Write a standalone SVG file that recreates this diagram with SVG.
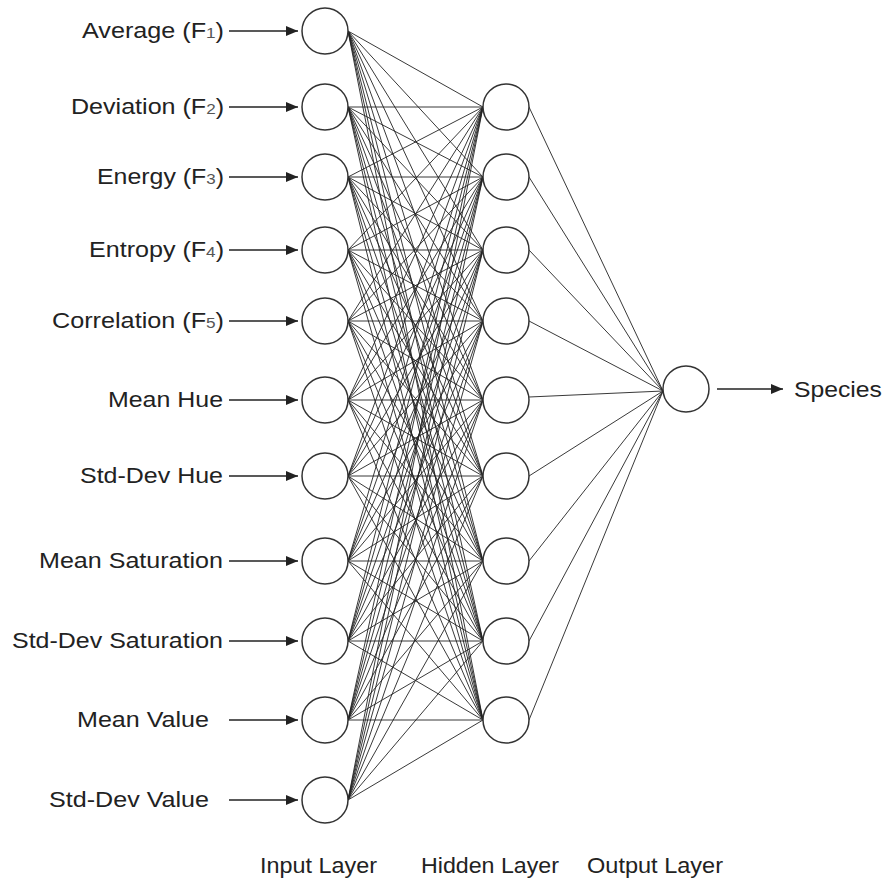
<svg xmlns="http://www.w3.org/2000/svg" width="888" height="883" viewBox="0 0 888 883">
  <defs>
    <marker id="arrow" viewBox="0 0 12 10" refX="12" refY="5" markerWidth="12" markerHeight="10" markerUnits="userSpaceOnUse" orient="auto">
      <path d="M0,0 L12,5 L0,10 Z" fill="#222"/>
    </marker>
    <style>
      .node { fill: #fff; stroke: #333; stroke-width: 1.5; }
      .edge { stroke: #222; stroke-width: 0.9; fill: none; }
      .feed { stroke: #222; stroke-width: 1.3; fill: none; marker-end: url(#arrow); }
      .lbl { font-family: "Liberation Sans", Arial, sans-serif; font-size: 22px; fill: #222; }
      .sub { font-size: 15px; fill: #555; }
    </style>
  </defs>
  <rect width="888" height="883" fill="#fff"/>

  <!-- connectors: input -> hidden (fully connected), hidden -> output -->
  <g id="connectors">
    <g id="input-hidden">
      <!-- input 1 (y=31) -->
      <path class="edge" d="M348,31L483,107M348,31L483,177M348,31L483,250M348,31L483,321M348,31L483,400M348,31L483,476M348,31L483,561M348,31L483,641M348,31L483,720"/>
      <path class="edge" d="M348,107L483,107M348,107L483,177M348,107L483,250M348,107L483,321M348,107L483,400M348,107L483,476M348,107L483,561M348,107L483,641M348,107L483,720"/>
      <path class="edge" d="M348,177L483,107M348,177L483,177M348,177L483,250M348,177L483,321M348,177L483,400M348,177L483,476M348,177L483,561M348,177L483,641M348,177L483,720"/>
      <path class="edge" d="M348,250L483,107M348,250L483,177M348,250L483,250M348,250L483,321M348,250L483,400M348,250L483,476M348,250L483,561M348,250L483,641M348,250L483,720"/>
      <path class="edge" d="M348,321L483,107M348,321L483,177M348,321L483,250M348,321L483,321M348,321L483,400M348,321L483,476M348,321L483,561M348,321L483,641M348,321L483,720"/>
      <path class="edge" d="M348,400L483,107M348,400L483,177M348,400L483,250M348,400L483,321M348,400L483,400M348,400L483,476M348,400L483,561M348,400L483,641M348,400L483,720"/>
      <path class="edge" d="M348,476L483,107M348,476L483,177M348,476L483,250M348,476L483,321M348,476L483,400M348,476L483,476M348,476L483,561M348,476L483,641M348,476L483,720"/>
      <path class="edge" d="M348,561L483,107M348,561L483,177M348,561L483,250M348,561L483,321M348,561L483,400M348,561L483,476M348,561L483,561M348,561L483,641M348,561L483,720"/>
      <path class="edge" d="M348,641L483,107M348,641L483,177M348,641L483,250M348,641L483,321M348,641L483,400M348,641L483,476M348,641L483,561M348,641L483,641M348,641L483,720"/>
      <path class="edge" d="M348,720L483,107M348,720L483,177M348,720L483,250M348,720L483,321M348,720L483,400M348,720L483,476M348,720L483,561M348,720L483,641M348,720L483,720"/>
      <path class="edge" d="M348,800L483,107M348,800L483,177M348,800L483,250M348,800L483,321M348,800L483,400M348,800L483,476M348,800L483,561M348,800L483,641M348,800L483,720"/>
    </g>
    <g id="hidden-output">
      <path class="edge" d="M529,107L663,391M529,177L663,391M529,250L663,391M529,321L663,391M529,397L663,391M529,476L663,391M529,561L663,391M529,641L663,391M529,720L663,391"/>
    </g>
    <g id="feeds">
      <line class="feed" x1="229" y1="31" x2="298" y2="31"/>
      <line class="feed" x1="229" y1="107" x2="298" y2="107"/>
      <line class="feed" x1="229" y1="177" x2="298" y2="177"/>
      <line class="feed" x1="229" y1="250" x2="298" y2="250"/>
      <line class="feed" x1="229" y1="321" x2="298" y2="321"/>
      <line class="feed" x1="229" y1="400" x2="298" y2="400"/>
      <line class="feed" x1="229" y1="476" x2="298" y2="476"/>
      <line class="feed" x1="229" y1="561" x2="298" y2="561"/>
      <line class="feed" x1="229" y1="641" x2="298" y2="641"/>
      <line class="feed" x1="229" y1="720" x2="298" y2="720"/>
      <line class="feed" x1="229" y1="800" x2="298" y2="800"/>
      <line class="feed" x1="717" y1="389" x2="783" y2="389"/>
    </g>
  </g>

  <!-- input layer -->
  <g id="input-layer">
    <g id="in1"><circle class="node" cx="325" cy="31" r="23"/><text class="lbl" x="82" y="38" textLength="142" lengthAdjust="spacingAndGlyphs">Average (F<tspan class="sub">1</tspan>)</text></g>
    <g id="in2"><circle class="node" cx="325" cy="107" r="23"/><text class="lbl" x="71" y="114" textLength="153" lengthAdjust="spacingAndGlyphs">Deviation (F<tspan class="sub">2</tspan>)</text></g>
    <g id="in3"><circle class="node" cx="325" cy="177" r="23"/><text class="lbl" x="97" y="184" textLength="127" lengthAdjust="spacingAndGlyphs">Energy (F<tspan class="sub">3</tspan>)</text></g>
    <g id="in4"><circle class="node" cx="325" cy="250" r="23"/><text class="lbl" x="89" y="257" textLength="135" lengthAdjust="spacingAndGlyphs">Entropy (F<tspan class="sub">4</tspan>)</text></g>
    <g id="in5"><circle class="node" cx="325" cy="321" r="23"/><text class="lbl" x="52" y="328" textLength="172" lengthAdjust="spacingAndGlyphs">Correlation (F<tspan class="sub">5</tspan>)</text></g>
    <g id="in6"><circle class="node" cx="325" cy="400" r="23"/><text class="lbl" x="108" y="407" textLength="115" lengthAdjust="spacingAndGlyphs">Mean Hue</text></g>
    <g id="in7"><circle class="node" cx="325" cy="476" r="23"/><text class="lbl" x="80" y="483" textLength="143" lengthAdjust="spacingAndGlyphs">Std-Dev Hue</text></g>
    <g id="in8"><circle class="node" cx="325" cy="561" r="23"/><text class="lbl" x="39" y="568" textLength="184" lengthAdjust="spacingAndGlyphs">Mean Saturation</text></g>
    <g id="in9"><circle class="node" cx="325" cy="641" r="23"/><text class="lbl" x="12" y="648" textLength="211" lengthAdjust="spacingAndGlyphs">Std-Dev Saturation</text></g>
    <g id="in10"><circle class="node" cx="325" cy="720" r="23"/><text class="lbl" x="77" y="727" textLength="132" lengthAdjust="spacingAndGlyphs">Mean Value</text></g>
    <g id="in11"><circle class="node" cx="325" cy="800" r="23"/><text class="lbl" x="49" y="807" textLength="160" lengthAdjust="spacingAndGlyphs">Std-Dev Value</text></g>
  </g>

  <!-- hidden layer -->
  <g id="hidden-layer">
    <g id="h1"><circle class="node" cx="506" cy="107" r="23"/></g>
    <g id="h2"><circle class="node" cx="506" cy="177" r="23"/></g>
    <g id="h3"><circle class="node" cx="506" cy="250" r="23"/></g>
    <g id="h4"><circle class="node" cx="506" cy="321" r="23"/></g>
    <g id="h5"><circle class="node" cx="506" cy="400" r="23"/></g>
    <g id="h6"><circle class="node" cx="506" cy="476" r="23"/></g>
    <g id="h7"><circle class="node" cx="506" cy="561" r="23"/></g>
    <g id="h8"><circle class="node" cx="506" cy="641" r="23"/></g>
    <g id="h9"><circle class="node" cx="506" cy="720" r="23"/></g>
  </g>

  <!-- output layer -->
  <g id="output-layer">
    <g id="out"><circle class="node" cx="686" cy="389" r="23"/><text class="lbl" x="794" y="397" textLength="88" lengthAdjust="spacingAndGlyphs">Species</text></g>
  </g>

  <!-- layer captions -->
  <g id="captions">
    <text class="lbl" x="260" y="873" textLength="117" lengthAdjust="spacingAndGlyphs">Input Layer</text>
    <text class="lbl" x="421" y="873" textLength="138" lengthAdjust="spacingAndGlyphs">Hidden Layer</text>
    <text class="lbl" x="587" y="873" textLength="136" lengthAdjust="spacingAndGlyphs">Output Layer</text>
  </g>
</svg>
